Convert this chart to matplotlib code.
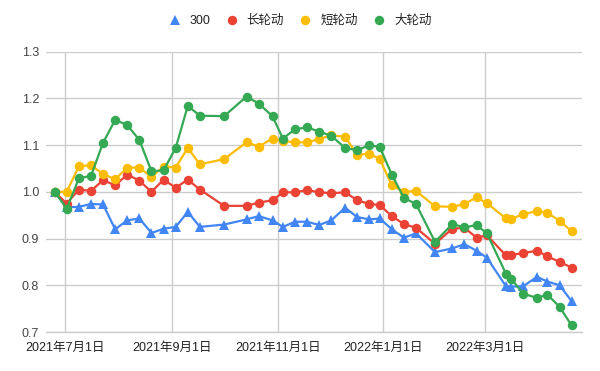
import matplotlib
matplotlib.use("Agg")
import matplotlib.pyplot as plt
import matplotlib.dates as mdates
from matplotlib.lines import Line2D
import pandas as pd

plt.rcParams['font.family'] = ['Liberation Sans', 'Noto Sans CJK SC', 'DejaVu Sans']

dates = ["2021-06-25", "2021-07-02", "2021-07-09", "2021-07-16", "2021-07-23", "2021-07-30",
         "2021-08-06", "2021-08-13", "2021-08-20", "2021-08-27", "2021-09-03", "2021-09-10",
         "2021-09-17", "2021-10-01", "2021-10-14", "2021-10-21", "2021-10-29", "2021-11-04",
         "2021-11-11", "2021-11-18", "2021-11-25", "2021-12-02", "2021-12-10", "2021-12-17",
         "2021-12-24", "2021-12-30", "2022-01-06", "2022-01-13", "2022-01-20", "2022-01-31",
         "2022-02-10", "2022-02-17", "2022-02-24", "2022-03-02", "2022-03-13", "2022-03-16",
         "2022-03-23", "2022-03-31", "2022-04-06", "2022-04-13", "2022-04-20"]

s300 = [1.000, 0.967, 0.968, 0.974, 0.973, 0.920, 0.939, 0.943, 0.912, 0.921, 0.925, 0.957,
        0.925, 0.930, 0.941, 0.948, 0.939, 0.925, 0.936, 0.936, 0.929, 0.939, 0.966, 0.946,
        0.941, 0.943, 0.920, 0.902, 0.911, 0.871, 0.879, 0.888, 0.874, 0.859, 0.798, 0.797,
        0.798, 0.818, 0.808, 0.800, 0.766]

long_rot = [1.000, 0.975, 1.005, 1.002, 1.025, 1.014, 1.037, 1.024, 1.000, 1.026, 1.009, 1.026,
            1.005, 0.970, 0.970, 0.977, 0.982, 0.999, 0.999, 1.004, 0.999, 0.997, 0.999, 0.982,
            0.974, 0.972, 0.948, 0.931, 0.923, 0.889, 0.921, 0.923, 0.902, 0.907, 0.864, 0.865,
            0.869, 0.874, 0.862, 0.850, 0.838]

short_rot = [1.000, 1.000, 1.055, 1.057, 1.038, 1.027, 1.052, 1.052, 1.032, 1.054, 1.052, 1.094,
             1.059, 1.070, 1.106, 1.097, 1.114, 1.109, 1.106, 1.106, 1.113, 1.121, 1.118, 1.079,
             1.082, 1.070, 1.014, 1.000, 1.002, 0.969, 0.968, 0.974, 0.988, 0.976, 0.943, 0.942,
             0.952, 0.959, 0.955, 0.938, 0.916]

big_rot = [1.000, 0.964, 1.029, 1.034, 1.105, 1.154, 1.143, 1.111, 1.044, 1.046, 1.094, 1.184,
           1.163, 1.162, 1.204, 1.189, 1.162, 1.114, 1.134, 1.138, 1.129, 1.120, 1.094, 1.089,
           1.100, 1.096, 1.037, 0.987, 0.974, 0.893, 0.931, 0.924, 0.929, 0.911, 0.825, 0.814,
           0.782, 0.773, 0.780, 0.754, 0.714]

series_names = ["300", "长轮动", "短轮动", "大轮动"]
series_colors = ["#4285F4", "#EA4335", "#FBBC04", "#34A853"]
series_markers = ["^", "o", "o", "o"]

yticks = [0.7, 0.8, 0.9, 1.0, 1.1, 1.2, 1.3]
xtick_dates = ["2021-07-01", "2021-09-01", "2021-11-01", "2022-01-01", "2022-03-01"]
xtick_labels = ["2021年7月1日", "2021年9月1日", "2021年11月1日", "2022年1月1日", "2022年3月1日"]

x = pd.to_datetime(dates)

fig = plt.figure(figsize=(6.0, 3.71), dpi=100)
ax = fig.add_axes([46 / 600, 39 / 371, 536 / 600, 280.3 / 371])

all_series = [s300, long_rot, short_rot, big_rot]
handles = []
for i, (vals, name, col, mk) in enumerate(zip(all_series, series_names, series_colors, series_markers)):
    ms = 7.5 if mk == "^" else 6.8
    ax.plot(x, vals, color=col, lw=1.6, marker=mk, markersize=ms, markeredgewidth=0,
            zorder=3 + i, clip_on=False)
    handles.append(Line2D([], [], color=col, marker=mk, linestyle='none',
                          markersize=ms, markeredgewidth=0, label=name))

ax.set_xlim(pd.Timestamp("2021-06-20"), pd.Timestamp("2022-04-26"))
ax.set_ylim(0.7, 1.3)
ax.set_yticks(yticks)
ax.set_yticklabels([f"{v:.1f}" for v in yticks])
ax.set_xticks(pd.to_datetime(xtick_dates))
ax.set_xticklabels(xtick_labels)

ax.grid(True, color="#cccccc", lw=1.0, zorder=0)
ax.set_axisbelow(True)
for sp in ["top", "right", "left"]:
    ax.spines[sp].set_visible(False)
ax.spines["bottom"].set_color("#cccccc")
ax.spines["bottom"].set_linewidth(1.0)
ax.tick_params(axis="both", length=0, labelsize=9, colors="#222222")
ax.tick_params(axis="y", pad=5, labelcolor="#444444")
ax.tick_params(axis="x", pad=7)

fig.legend(handles=handles, loc="center", bbox_to_anchor=(0.5, 1 - 21 / 371), ncol=4,
           frameon=False, fontsize=9, handlelength=1.0, handletextpad=0.7,
           columnspacing=1.2, labelcolor="#222222")

fig.savefig("out.png", dpi=100)
